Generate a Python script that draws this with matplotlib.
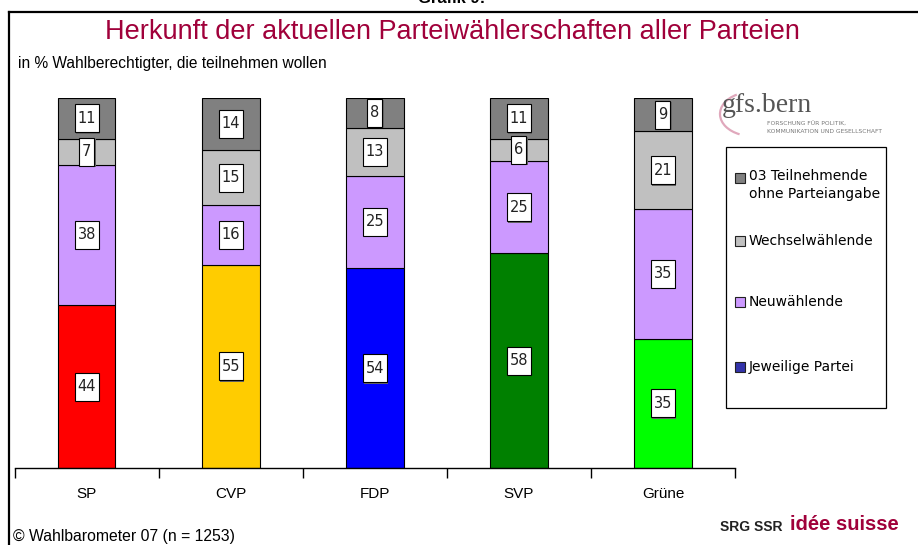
import matplotlib
matplotlib.use("Agg")
import matplotlib.pyplot as plt
from matplotlib.patches import Rectangle, Arc
from matplotlib.lines import Line2D
from matplotlib.transforms import ScaledTranslation

# ---- data ----
parties = ['SP', 'CVP', 'FDP', 'SVP', 'Grüne']
jeweilige = [44, 55, 54, 58, 35]
neu = [38, 16, 25, 25, 35]
wechsel = [7, 15, 13, 6, 21]
ohne = [11, 14, 8, 11, 9]
party_colors = ['#ff0000', '#ffcc00', '#0000ff', '#008000', '#00ff00']
legend_labels = ['03 Teilnehmende\nohne Parteiangabe', 'Wechselwählende', 'Neuwählende', 'Jeweilige Partei']
legend_colors = ['#808080', '#c0c0c0', '#cc99ff', '#3333aa']
title = 'Herkunft der aktuellen Parteiwählerschaften aller Parteien'
subtitle = 'in % Wahlberechtigter, die teilnehmen wollen'
footer = '© Wahlbarometer 07 (n = 1253)'

W, H = 918, 545
DPI = 100
fig = plt.figure(figsize=(W / DPI, H / DPI), dpi=DPI)
fig.patch.set_facecolor('white')

def fx(px):
    return px / W

def fy(py):
    return 1 - py / H

ax = fig.add_axes([fx(14.6), fy(468), fx(735) - fx(14.6), fy(98) - fy(468)])
x = list(range(len(parties)))
bw = 0.40
segments = [
    (jeweilige, party_colors),
    (neu, [legend_colors[2]] * 5),
    (wechsel, [legend_colors[1]] * 5),
    (ohne, [legend_colors[0]] * 5),
]

def label_box(xc, yc, txt):
    # box size in pixels
    w = 24 if len(txt) > 1 else 15
    h = 28
    base = ScaledTranslation(xc, yc, ax.transData)
    tr = fig.dpi_scale_trans + base
    sh = Rectangle(((-w / 2 + 1.5) / DPI, (-h / 2 - 1.5) / DPI), w / DPI, h / DPI,
                   facecolor='#666666', edgecolor='none', transform=tr, zorder=4)
    bx = Rectangle((-w / 2 / DPI, -h / 2 / DPI), w / DPI, h / DPI,
                   facecolor='white', edgecolor='black', linewidth=0.8, transform=tr, zorder=4.5)
    ax.add_patch(sh)
    ax.add_patch(bx)
    ax.text(xc, yc, txt, ha='center', va='center', fontsize=10.5, family='DejaVu Sans',
            color='#222222', zorder=5)

bottom = [0] * len(parties)
for vals, cols in segments:
    ax.bar(x, vals, bw, bottom=bottom, color=cols, edgecolor='black', linewidth=0.8, zorder=2)
    for i, v in enumerate(vals):
        label_box(i, bottom[i] + v / 2, str(v))
    bottom = [b + v for b, v in zip(bottom, vals)]

ax.set_xlim(-0.5, len(parties) - 0.5)
ax.set_ylim(0, 100)
for s in ['left', 'right', 'top']:
    ax.spines[s].set_visible(False)
ax.spines['bottom'].set_linewidth(1.0)
ax.set_yticks([])
ax.set_xticks(x)
ax.set_xticklabels(parties, fontsize=11, family='Liberation Sans')
ax.tick_params(axis='x', which='major', length=0, pad=14)
ax.set_xticks([i - 0.5 for i in range(len(parties) + 1)], minor=True)
ax.tick_params(axis='x', which='minor', length=7, width=1.0, direction='out')

# frame lines
fig.add_artist(Line2D([fx(9), 1.0], [fy(12), fy(12)], color='black', linewidth=1.6))
fig.add_artist(Line2D([fx(9), fx(9)], [fy(12), 0], color='black', linewidth=1.6))

# header texts
fig.text(fx(452), fy(-2), 'Grafik 9:', ha='center', va='center', fontsize=12, fontweight='bold',
         family='Liberation Sans')
fig.text(fx(452), fy(32), title, ha='center', va='center', fontsize=19.5, color='#a0003a',
         family='Liberation Sans')
fig.text(fx(18), fy(63), subtitle, ha='left', va='center', fontsize=11.2, family='Liberation Sans')
fig.text(fx(13), fy(537), footer, ha='left', va='center', fontsize=11.3, family='Liberation Sans')

# legend (manual)
fig.add_artist(Rectangle((fx(726), fy(408)), fx(886) - fx(726), fy(147) - fy(408),
                         facecolor='white', edgecolor='black', linewidth=0.9, transform=fig.transFigure))
leg_y = [178, 241, 302, 367]
for lab, col, yy in zip(legend_labels, legend_colors, leg_y):
    fig.add_artist(Rectangle((fx(735), fy(yy + 5)), fx(10), fy(yy - 5) - fy(yy + 5),
                             facecolor=col, edgecolor='#222222', linewidth=0.8, transform=fig.transFigure))
    if '\n' in lab:
        fig.text(fx(749), fy(yy - 9), lab, ha='left', va='top', fontsize=10, family='DejaVu Sans',
                 linespacing=1.35)
    else:
        fig.text(fx(749), fy(yy), lab, ha='left', va='center', fontsize=10, family='DejaVu Sans')

# gfs.bern logo
fig.add_artist(Arc((fx(752), fy(114)), fx(64), fy(0) - fy(44), theta1=115, theta2=250,
                   color='#e0a8bc', linewidth=1.6, transform=fig.transFigure))
fig.text(fx(722), fy(106), 'gfs.bern', ha='left', va='center', fontsize=20, color='#555555',
         family='Liberation Serif')
fig.text(fx(767), fy(124), 'FORSCHUNG FÜR POLITIK,', ha='left', va='center', fontsize=4.3,
         color='#777777', family='DejaVu Sans')
fig.text(fx(767), fy(131), 'KOMMUNIKATION UND GESELLSCHAFT', ha='left', va='center', fontsize=4.3,
         color='#777777', family='DejaVu Sans')

# SRG SSR logo
fig.text(fx(720), fy(527), 'SRG SSR', ha='left', va='center', fontsize=10, fontweight='bold',
         color='#222222', family='Liberation Sans')
fig.text(fx(790), fy(525), 'idée suisse', ha='left', va='center', fontsize=14.5, fontweight='bold',
         color='#a0003a', family='Liberation Sans')

fig.savefig('out.png', dpi=DPI, facecolor='white')
